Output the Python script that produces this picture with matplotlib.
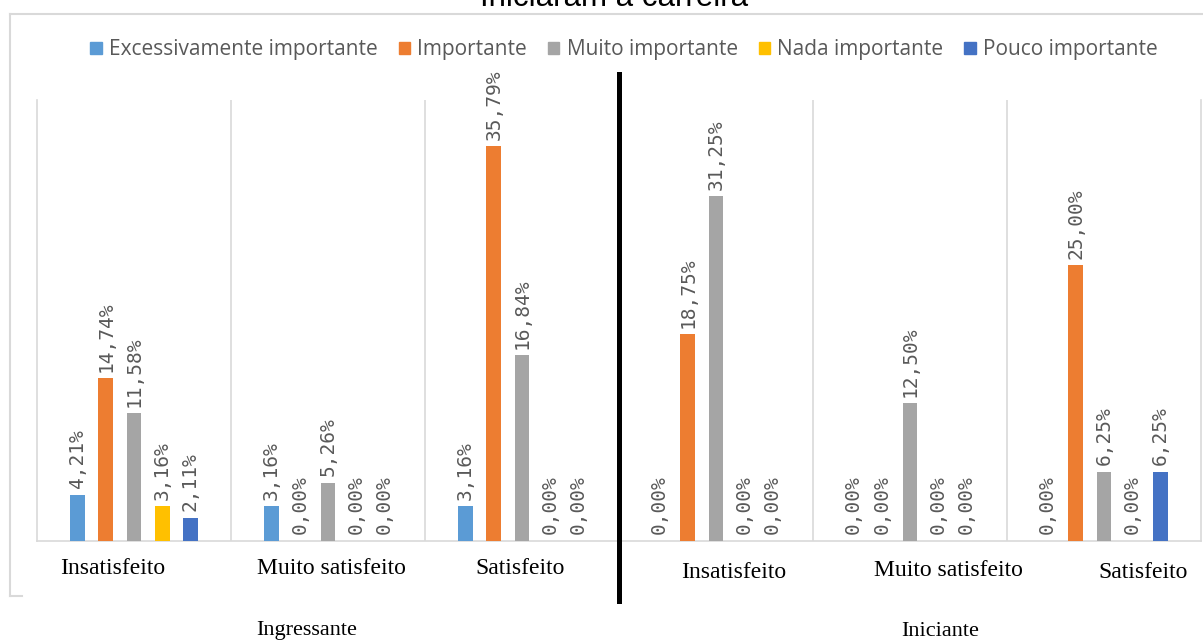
import numpy as np
import matplotlib.pyplot as plt
from matplotlib.lines import Line2D
from matplotlib.patches import Patch

# data
groups = ['Ingressante', 'Iniciante']
categories = ['Insatisfeito', 'Muito satisfeito', 'Satisfeito',
              'Insatisfeito', 'Muito satisfeito', 'Satisfeito']
series = ['Excessivamente importante', 'Importante', 'Muito importante',
          'Nada importante', 'Pouco importante']
excessivamente = [4.21, 3.16, 3.16, 0.00, 0.00, 0.00]
importante = [14.74, 0.00, 35.79, 18.75, 0.00, 25.00]
muito = [11.58, 5.26, 16.84, 31.25, 12.50, 6.25]
nada = [3.16, 0.00, 0.00, 0.00, 0.00, 0.00]
pouco = [2.11, 0.00, 0.00, 0.00, 0.00, 6.25]
values = [excessivamente, importante, muito, nada, pouco]

colors = ['#5B9BD5', '#ED7D31', '#A5A5A5', '#FFC000', '#4472C4']
grid_color = '#D9D9D9'
text_gray = '#595959'

W, H = 1203, 641


def fx(px):
    return px / W


def fy(py):
    return 1 - py / H


fig = plt.figure(figsize=(W / 100, H / 100), dpi=100)
ax = fig.add_axes([fx(37), fy(541), fx(1201 - 37), (541 - 100) / H])

x = np.arange(len(categories))
offsets = np.array([-2, -1, 0, 1, 2]) * 0.145
bar_w = 0.077

for vals, off, col in zip(values, offsets, colors):
    ax.bar(x + off, vals, width=bar_w, color=col, zorder=3)
    for xi, v in zip(x, vals):
        ax.text(xi + off, v + 0.6, f'{v:.2f}%'.replace('.', ','),
                rotation=90, ha='center', va='bottom', color=text_gray,
                fontsize=14, family='DejaVu Sans Mono')

ax.set_xlim(-0.5, len(categories) - 0.5)
ax.set_ylim(0, 40)
ax.set_xticks([])
ax.set_yticks([])
ax.spines['top'].set_visible(False)
for s in ['left', 'right', 'bottom']:
    ax.spines[s].set_color(grid_color)
    ax.spines[s].set_linewidth(1.2)
for sep in x[:-1] + 0.5:
    ax.axvline(sep, color=grid_color, lw=1.2, zorder=1)

# thick divider between the two groups
ax.plot([2.5, 2.5], [42.4, -5.4], color='black', lw=3.6, clip_on=False, zorder=5)

# category labels
label_shift = [-0.11, 0.02, -0.01, 0.09, 0.2, 0.2]
label_py = [568, 568, 568, 572, 570, 572]
for xi, lab, sh, py in zip(x, categories, label_shift, label_py):
    fig.text(fx(37 + (xi + 0.5 + sh) * 194), fy(py), lab, ha='center', va='center',
             family='Liberation Serif', fontsize=17, color='black')

# group labels
fig.text(fx(307), fy(630), groups[0], ha='center', va='center',
         family='Liberation Serif', fontsize=16, color='black')
fig.text(fx(940), fy(631), groups[1], ha='center', va='center',
         family='Liberation Serif', fontsize=16, color='black')

# title, cut off by the top edge as in the source
fig.text(fx(614), fy(6), 'Iniciaram a carreira', ha='center', va='baseline',
         family='Liberation Sans', fontsize=22.5, color='black')

# chart frame
frame = dict(color=grid_color, lw=1.5)
fig.add_artist(Line2D([fx(10), fx(1203)], [fy(14), fy(14)], **frame))
fig.add_artist(Line2D([fx(10), fx(10)], [fy(14), fy(596)], **frame))
fig.add_artist(Line2D([fx(10), fx(22)], [fy(596), fy(596)], **frame))

handles = [Patch(color=c) for c in colors]
fig.legend(handles, series, loc='center', bbox_to_anchor=(fx(624), fy(50)),
           ncol=5, frameon=False, handlelength=0.55, handleheight=0.55,
           handletextpad=0.35, columnspacing=1.0,
           prop={'family': 'Open Sans', 'size': 15}, labelcolor=text_gray)

fig.savefig('out.png', dpi=100)
